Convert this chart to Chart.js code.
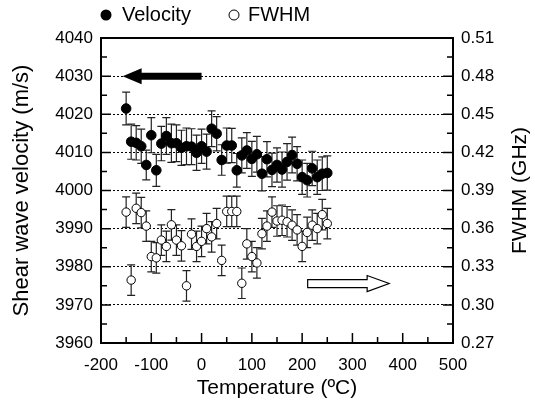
<!DOCTYPE html>
<html lang="en">
<head>
<meta charset="UTF-8">
<title>Shear wave velocity and FWHM vs temperature</title>
<script src="https://cdn.jsdelivr.net/npm/chart.js"></script>
<style>
  body { margin: 0; background: #fff; }
  .chart-box { width: 535px; height: 405px; }
</style>
</head>
<body>
<div class="chart-box"><canvas id="chart" width="535" height="405"></canvas></div>
<script>
// datos
const temperatures = [-150, -140, -130, -120, -110, -100, -90, -80, -70, -60, -50, -40, -30, -20, -10,
  0, 10, 20, 30, 40, 50, 60, 70, 80, 90, 100, 110, 120, 130, 140, 150, 160, 170, 180, 190, 200,
  210, 220, 230, 240, 250];
const velocity = [4021.5, 4012.8, 4012.5, 4011.6, 4006.7, 4014.5, 4005.3, 4012.3, 4014.3, 4012.4,
  4012.4, 4011.2, 4011.6, 4011.5, 4009.9, 4011.6, 4010.2, 4016.2, 4014.9, 4008.0, 4011.8, 4011.8,
  4005.3, 4009.2, 4010.5, 4008.3, 4009.5, 4004.4, 4008.2, 4005.4, 4006.7, 4005.5, 4007.5, 4009.3,
  4007.0, 4003.5, 4002.7, 4005.8, 4003.5, 4004.4, 4004.6];
const velocityErr = [4.3, 4.6, 4.5, 4.5, 3.9, 4.6, 4.2, 4.5, 4.8, 5.0, 4.8, 4.6, 4.8, 4.7, 4.6,
  4.5, 4.6, 4.7, 4.5, 4.0, 4.6, 4.5, 4.4, 4.6, 4.7, 4.6, 4.7, 4.5, 4.6, 4.4, 4.5, 4.6, 4.8, 4.7,
  4.5, 4.5, 4.4, 4.5, 4.5, 4.4, 4.5];
const fwhm = [0.373, 0.3195, 0.376, 0.3726, 0.362, 0.338, 0.337, 0.351, 0.346, 0.363, 0.351, 0.3465,
  0.315, 0.3556, 0.346, 0.350, 0.360, 0.3535, 0.364, 0.335, 0.3735, 0.3735, 0.3735, 0.317, 0.348,
  0.338, 0.333, 0.356, 0.362, 0.373, 0.366, 0.3666, 0.3654, 0.3627, 0.359, 0.346, 0.357, 0.3627,
  0.360, 0.371, 0.364];
const fwhmErr = [0.012, 0.012, 0.012, 0.012, 0.012, 0.012, 0.012, 0.012, 0.012, 0.012, 0.012, 0.012,
  0.012, 0.012, 0.012, 0.012, 0.012, 0.012, 0.012, 0.012, 0.012, 0.012, 0.012, 0.012, 0.012, 0.012,
  0.012, 0.012, 0.012, 0.012, 0.012, 0.012, 0.012, 0.012, 0.012, 0.012, 0.012, 0.012, 0.012, 0.012,
  0.012];
const xTicks = [-200, -100, 0, 100, 200, 300, 400, 500];
const leftTicks = [3960, 3970, 3980, 3990, 4000, 4010, 4020, 4030, 4040];
const rightTicks = [0.27, 0.30, 0.33, 0.36, 0.39, 0.42, 0.45, 0.48, 0.51];

const FONT = "'Liberation Sans', Arial, sans-serif";

// barras de error detras de los puntos
const errorBars = {
  id: 'errorBars',
  beforeDatasetsDraw(chart) {
    const ctx = chart.ctx;
    chart.data.datasets.forEach((ds, i) => {
      const ys = chart.scales[ds.yAxisID];
      const xs = chart.scales.x;
      ctx.save();
      ctx.strokeStyle = '#222';
      ctx.lineWidth = 1.2;
      ds.data.forEach(d => {
        const x = xs.getPixelForValue(d.x);
        const t = ys.getPixelForValue(d.y + d.e);
        const b = ys.getPixelForValue(d.y - d.e);
        ctx.beginPath();
        ctx.moveTo(x, t); ctx.lineTo(x, b);
        ctx.moveTo(x - 4, t); ctx.lineTo(x + 4, t);
        ctx.moveTo(x - 4, b); ctx.lineTo(x + 4, b);
        ctx.stroke();
      });
      ctx.restore();
    });
  }
};

// marco, ticks hacia dentro, flechas, leyenda y titulo derecho
const frame = {
  id: 'frame',
  afterDraw(chart) {
    const ctx = chart.ctx;
    const a = chart.chartArea;
    const xs = chart.scales.x, yl = chart.scales.y, yr = chart.scales.y2;
    ctx.save();
    ctx.strokeStyle = '#000';
    ctx.lineWidth = 1.5;
    ctx.beginPath();
    for (let v = -150; v < 500; v += 50) {
      const x = xs.getPixelForValue(v);
      const len = v % 100 === 0 ? 10 : 6;
      ctx.moveTo(x, a.bottom); ctx.lineTo(x, a.bottom - len);
    }
    for (let v = 3965; v < 4040; v += 5) {
      const y = yl.getPixelForValue(v);
      const len = v % 10 === 0 ? 10 : 6;
      ctx.moveTo(a.left, y); ctx.lineTo(a.left + len, y);
      ctx.moveTo(a.right, y); ctx.lineTo(a.right - len, y);
    }
    ctx.stroke();
    ctx.lineWidth = 2;
    ctx.strokeRect(a.left, a.top, a.right - a.left, a.bottom - a.top);

    // flecha negra -> eje izquierdo
    const y1 = yl.getPixelForValue(4030);
    const x0 = xs.getPixelForValue(0), x1 = xs.getPixelForValue(-157);
    ctx.fillStyle = '#000';
    ctx.beginPath();
    ctx.moveTo(x0, y1 - 3.5); ctx.lineTo(x1 + 19, y1 - 3.5); ctx.lineTo(x1 + 19, y1 - 8);
    ctx.lineTo(x1, y1); ctx.lineTo(x1 + 19, y1 + 8); ctx.lineTo(x1 + 19, y1 + 3.5);
    ctx.lineTo(x0, y1 + 3.5); ctx.closePath();
    ctx.fill();

    // flecha blanca -> eje derecho
    const y2 = yr.getPixelForValue(0.3168);
    const x2 = xs.getPixelForValue(211), x3 = xs.getPixelForValue(373);
    ctx.fillStyle = '#fff';
    ctx.lineWidth = 1.2;
    ctx.beginPath();
    ctx.moveTo(x2, y2 - 4); ctx.lineTo(x3 - 22, y2 - 4); ctx.lineTo(x3 - 22, y2 - 8);
    ctx.lineTo(x3, y2); ctx.lineTo(x3 - 22, y2 + 8); ctx.lineTo(x3 - 22, y2 + 4);
    ctx.lineTo(x2, y2 + 4); ctx.closePath();
    ctx.fill(); ctx.stroke();

    // leyenda
    ctx.font = '20px ' + FONT;
    ctx.textBaseline = 'middle';
    ctx.fillStyle = '#000';
    ctx.beginPath(); ctx.arc(106, 15, 5.5, 0, Math.PI * 2); ctx.fill();
    ctx.fillText('Velocity', 122, 15);
    ctx.lineWidth = 1;
    ctx.beginPath(); ctx.arc(234, 15, 5, 0, Math.PI * 2); ctx.stroke();
    ctx.fillText('FWHM', 248, 15);

    // titulo eje derecho
    ctx.font = '21px ' + FONT;
    ctx.textAlign = 'center';
    ctx.translate(520, (a.top + a.bottom) / 2);
    ctx.rotate(-Math.PI / 2);
    ctx.fillText('FWHM (GHz)', 0, 0);
    ctx.restore();
  }
};

const velData = temperatures.map((t, i) => ({ x: t, y: velocity[i], e: velocityErr[i] }));
const fwhmData = temperatures.map((t, i) => ({ x: t, y: fwhm[i], e: fwhmErr[i] }));

new Chart(document.getElementById('chart'), {
  type: 'scatter',
  data: {
    datasets: [
      {
        label: 'Velocity',
        data: velData,
        yAxisID: 'y',
        pointRadius: 4.8,
        pointBackgroundColor: '#000',
        pointBorderColor: '#000',
        pointBorderWidth: 1
      },
      {
        label: 'FWHM',
        data: fwhmData,
        yAxisID: 'y2',
        pointRadius: 4.2,
        pointBackgroundColor: '#fff',
        pointBorderColor: '#000',
        pointBorderWidth: 1
      }
    ]
  },
  options: {
    responsive: false,
    animation: false,
    layout: { padding: { top: 38, left: 0, right: 0, bottom: 0 } },
    plugins: {
      legend: { display: false },
      tooltip: { enabled: false }
    },
    scales: {
      x: {
        type: 'linear',
        min: -200,
        max: 500,
        afterBuildTicks: s => { s.ticks = xTicks.map(v => ({ value: v })); },
        afterFit: s => { s.height = 62; },
        grid: { display: false },
        border: { display: false },
        ticks: { color: '#000', padding: 4, font: { family: FONT, size: 17 }, callback: v => String(v) },
        title: {
          display: true,
          text: 'Temperature (ºC)',
          color: '#000',
          font: { family: FONT, size: 21 },
          padding: { top: 0, bottom: 4 }
        }
      },
      y: {
        position: 'left',
        min: 3960,
        max: 4040,
        afterBuildTicks: s => { s.ticks = leftTicks.map(v => ({ value: v })); },
        afterFit: s => { s.width = 101; },
        grid: {
          drawTicks: false,
          lineWidth: 1,
          color: c => (c.tick && (c.tick.value === 3960 || c.tick.value === 4040)) ? 'rgba(0,0,0,0)' : '#000'
        },
        border: { display: false, dash: [2, 2] },
        ticks: { color: '#000', padding: 8, font: { family: FONT, size: 17 }, callback: v => String(v) },
        title: {
          display: true,
          text: 'Shear wave velocity (m/s)',
          color: '#000',
          font: { family: FONT, size: 22 },
          padding: { top: 9, bottom: 0 }
        }
      },
      y2: {
        position: 'right',
        min: 0.27,
        max: 0.51,
        afterBuildTicks: s => { s.ticks = rightTicks.map(v => ({ value: v })); },
        afterFit: s => { s.width = 82; },
        grid: { display: false, drawTicks: false },
        border: { display: false },
        ticks: {
          color: '#000',
          padding: 8,
          font: { family: FONT, size: 17 },
          callback: v => v.toFixed(2)
        }
      }
    }
  },
  plugins: [errorBars, frame]
});
</script>
</body>
</html>
